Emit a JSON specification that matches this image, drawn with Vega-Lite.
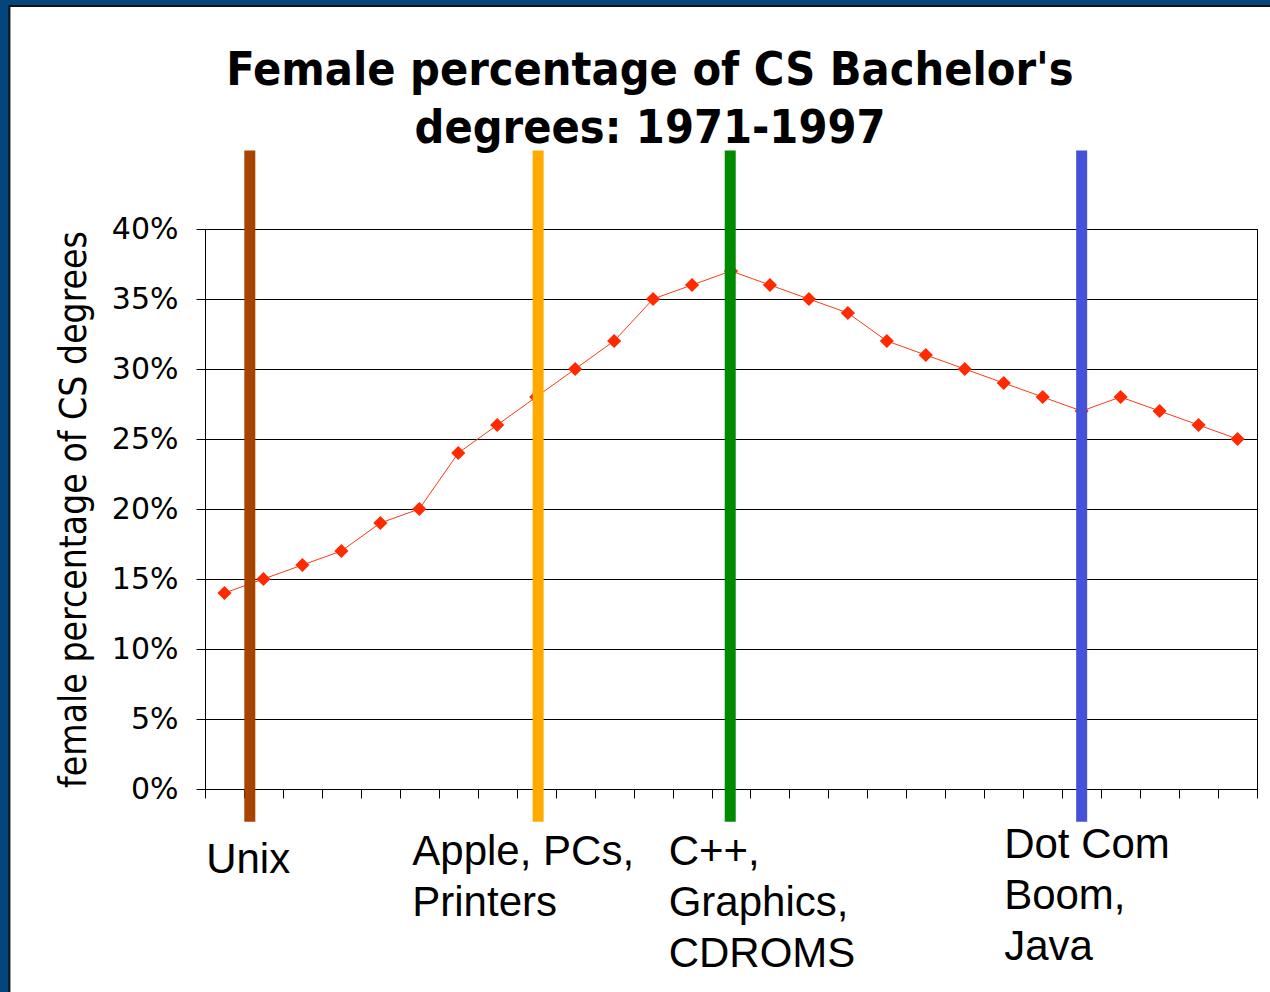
{
  "$schema": "https://vega.github.io/schema/vega-lite/v6.json",
  "autosize": "none",
  "width": 1052,
  "height": 560,
  "padding": {"left": 205, "top": 229, "right": 13, "bottom": 203},
  "background": "white",
  "title": {
    "text": ["Female percentage of CS Bachelor's", "degrees: 1971-1997"],
    "anchor": "middle",
    "dx": -81,
    "offset": -164,
    "font": "DejaVu Sans Condensed",
    "fontSize": 46.4,
    "fontWeight": "bold",
    "lineHeight": 58,
    "color": "black"
  },
  "config": {
    "view": {"stroke": "black", "strokeWidth": 1}
  },
  "datasets": {
    "share": [
      {"year": 1971, "pct": 0.14},
      {"year": 1972, "pct": 0.15},
      {"year": 1973, "pct": 0.16},
      {"year": 1974, "pct": 0.17},
      {"year": 1975, "pct": 0.19},
      {"year": 1976, "pct": 0.20},
      {"year": 1977, "pct": 0.24},
      {"year": 1978, "pct": 0.26},
      {"year": 1979, "pct": 0.28},
      {"year": 1980, "pct": 0.30},
      {"year": 1981, "pct": 0.32},
      {"year": 1982, "pct": 0.35},
      {"year": 1983, "pct": 0.36},
      {"year": 1984, "pct": 0.37},
      {"year": 1985, "pct": 0.36},
      {"year": 1986, "pct": 0.35},
      {"year": 1987, "pct": 0.34},
      {"year": 1988, "pct": 0.32},
      {"year": 1989, "pct": 0.31},
      {"year": 1990, "pct": 0.30},
      {"year": 1991, "pct": 0.29},
      {"year": 1992, "pct": 0.28},
      {"year": 1993, "pct": 0.27},
      {"year": 1994, "pct": 0.28},
      {"year": 1995, "pct": 0.27},
      {"year": 1996, "pct": 0.26},
      {"year": 1997, "pct": 0.25}
    ],
    "events": [
      {"event": "Unix", "year": 1971.65, "label": "Unix"},
      {"event": "Apple", "year": 1979.05, "label": "Apple, PCs,\nPrinters"},
      {"event": "C++", "year": 1983.98, "label": "C++,\nGraphics,\nCDROMS"},
      {"event": "Dot Com", "year": 1993.0, "label": "Dot Com\nBoom,\nJava"}
    ]
  },
  "layer": [
    {
      "data": {"values": [{}]},
      "mark": {"type": "rect", "fill": "white", "fillOpacity": 0, "stroke": "#03457d", "strokeWidth": 18},
      "encoding": {
        "x": {"datum": 1965.24, "type": "quantitative", "scale": {"domain": [1970.5, 1997.5], "nice": false, "zero": false}},
        "x2": {"datum": 1998.6},
        "y": {"datum": 0.5657, "type": "quantitative", "scale": {"domain": [0, 0.4], "nice": false}},
        "y2": {"datum": -0.16}
      }
    },
    {
      "data": {"values": [{}]},
      "mark": {"type": "rect", "fill": "white", "fillOpacity": 0, "stroke": "#111111", "strokeWidth": 2},
      "encoding": {
        "x": {"datum": 1965.48, "type": "quantitative", "scale": {"domain": [1970.5, 1997.5], "nice": false, "zero": false}},
        "x2": {"datum": 1998.6},
        "y": {"datum": 0.5593, "type": "quantitative", "scale": {"domain": [0, 0.4], "nice": false}},
        "y2": {"datum": -0.16}
      }
    },
    {
      "data": {"name": "share"},
      "mark": {"type": "line", "color": "#ff3818", "strokeWidth": 1},
      "encoding": {
        "x": {
          "field": "year",
          "type": "quantitative",
          "scale": {"domain": [1970.5, 1997.5], "nice": false, "zero": false},
          "axis": {
            "values": [1970.5, 1971.5, 1972.5, 1973.5, 1974.5, 1975.5, 1976.5, 1977.5, 1978.5, 1979.5, 1980.5, 1981.5, 1982.5, 1983.5, 1984.5, 1985.5, 1986.5, 1987.5, 1988.5, 1989.5, 1990.5, 1991.5, 1992.5, 1993.5, 1994.5, 1995.5, 1996.5, 1997.5],
            "tickCount": 60,
            "labels": false,
            "ticks": true,
            "tickSize": 9,
            "tickColor": "black",
            "tickWidth": 1,
            "domainColor": "black",
            "domainWidth": 1,
            "grid": false,
            "title": null
          }
        },
        "y": {
          "field": "pct",
          "type": "quantitative",
          "scale": {"domain": [0, 0.4], "nice": false},
          "axis": {
            "values": [0, 0.05, 0.1, 0.15, 0.2, 0.25, 0.3, 0.35, 0.4],
            "tickCount": 20,
            "format": ".0%",
            "title": "female percentage of CS degrees",
            "titleFont": "DejaVu Sans Condensed",
            "titleFontSize": 37,
            "titleFontWeight": "normal",
            "titleColor": "black",
            "titlePadding": 18,
            "labelFont": "DejaVu Sans",
            "labelFontSize": 30,
            "labelColor": "black",
            "labelPadding": 18,
            "tickSize": 9,
            "tickColor": "black",
            "domainColor": "black",
            "grid": true,
            "gridColor": "black",
            "gridOpacity": 1,
            "gridWidth": 1
          }
        }
      }
    },
    {
      "data": {"name": "share"},
      "mark": {"type": "point", "shape": "diamond", "filled": true, "size": 200, "color": "#ff2a00", "opacity": 1},
      "encoding": {
        "x": {"field": "year", "type": "quantitative", "scale": {"domain": [1970.5, 1997.5], "nice": false, "zero": false}},
        "y": {"field": "pct", "type": "quantitative", "scale": {"domain": [0, 0.4], "nice": false}}
      }
    },
    {
      "data": {"name": "events"},
      "mark": {"type": "rule", "strokeWidth": 11},
      "encoding": {
        "x": {"field": "year", "type": "quantitative", "scale": {"domain": [1970.5, 1997.5], "nice": false, "zero": false}},
        "y": {"datum": 0.456, "type": "quantitative", "scale": {"domain": [0, 0.4], "nice": false}},
        "y2": {"datum": -0.0234},
        "color": {
          "field": "event",
          "type": "nominal",
          "scale": {"domain": ["Unix", "Apple", "C++", "Dot Com"], "range": ["#a84300", "#ffaa00", "#008a00", "#4352d8"]},
          "legend": null
        }
      }
    },
    {
      "data": {"name": "events"},
      "transform": [{"filter": "datum.event === 'Unix'"}],
      "mark": {"type": "text", "font": "Liberation Sans", "fontSize": 42, "align": "left", "baseline": "alphabetic", "lineBreak": "\n", "lineHeight": 51, "color": "black"},
      "encoding": {
        "x": {"datum": 1970.53, "type": "quantitative", "scale": {"domain": [1970.5, 1997.5], "nice": false, "zero": false}},
        "y": {"datum": -0.06, "type": "quantitative", "scale": {"domain": [0, 0.4], "nice": false}},
        "text": {"field": "label", "type": "nominal"}
      }
    },
    {
      "data": {"name": "events"},
      "transform": [{"filter": "datum.event === 'Apple'"}],
      "mark": {"type": "text", "font": "Liberation Sans", "fontSize": 42, "align": "left", "baseline": "alphabetic", "lineBreak": "\n", "lineHeight": 51, "color": "black"},
      "encoding": {
        "x": {"datum": 1975.82, "type": "quantitative", "scale": {"domain": [1970.5, 1997.5], "nice": false, "zero": false}},
        "y": {"datum": -0.0543, "type": "quantitative", "scale": {"domain": [0, 0.4], "nice": false}},
        "text": {"field": "label", "type": "nominal"}
      }
    },
    {
      "data": {"name": "events"},
      "transform": [{"filter": "datum.event === 'C++'"}],
      "mark": {"type": "text", "font": "Liberation Sans", "fontSize": 42, "align": "left", "baseline": "alphabetic", "lineBreak": "\n", "lineHeight": 51, "color": "black"},
      "encoding": {
        "x": {"datum": 1982.4, "type": "quantitative", "scale": {"domain": [1970.5, 1997.5], "nice": false, "zero": false}},
        "y": {"datum": -0.0543, "type": "quantitative", "scale": {"domain": [0, 0.4], "nice": false}},
        "text": {"field": "label", "type": "nominal"}
      }
    },
    {
      "data": {"name": "events"},
      "transform": [{"filter": "datum.event === 'Dot Com'"}],
      "mark": {"type": "text", "font": "Liberation Sans", "fontSize": 42, "align": "left", "baseline": "alphabetic", "lineBreak": "\n", "lineHeight": 51, "color": "black"},
      "encoding": {
        "x": {"datum": 1991.01, "type": "quantitative", "scale": {"domain": [1970.5, 1997.5], "nice": false, "zero": false}},
        "y": {"datum": -0.0493, "type": "quantitative", "scale": {"domain": [0, 0.4], "nice": false}},
        "text": {"field": "label", "type": "nominal"}
      }
    }
  ]
}
